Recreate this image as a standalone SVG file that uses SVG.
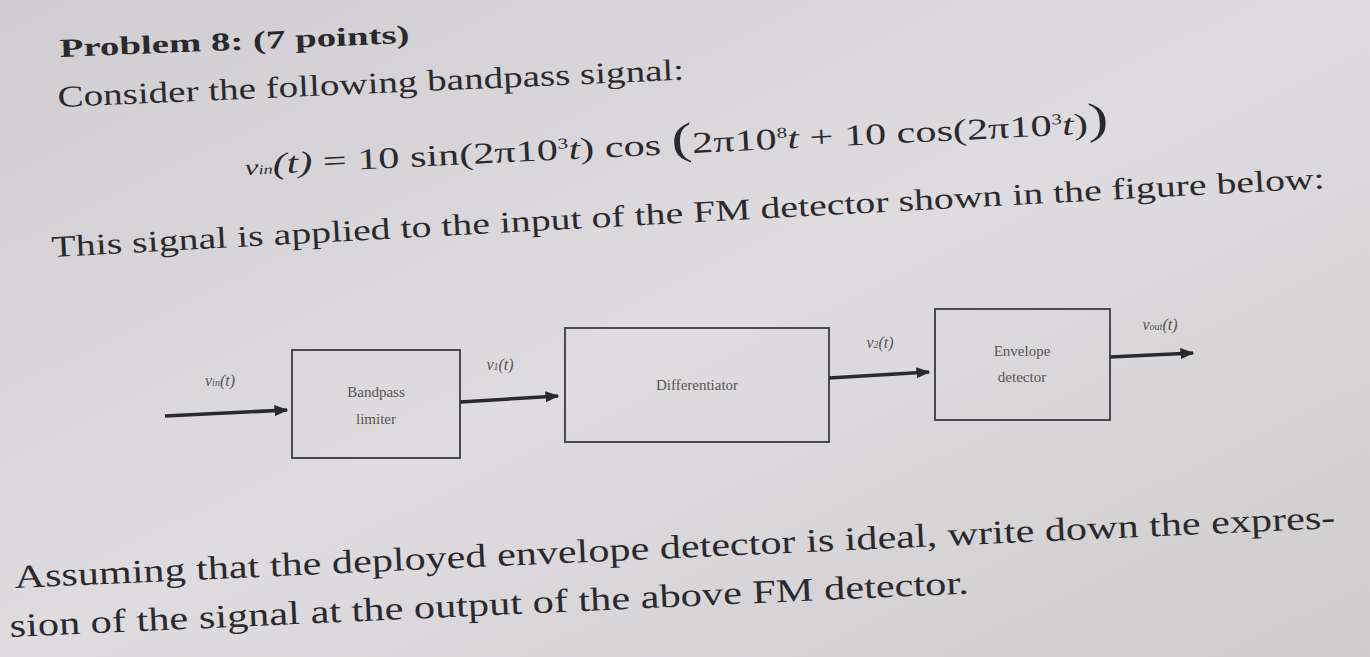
<svg xmlns="http://www.w3.org/2000/svg" width="1370" height="657" viewBox="0 0 1370 657">
<defs>
<style>
text{font-family:"Liberation Serif","DejaVu Serif",serif;fill:#2a2a2e}
.b{fill:none;stroke:#4a4a50;stroke-width:2}
.c{stroke:#2a2a2e;stroke-width:3.5;fill:none;marker-end:url(#a)}
.s{font-size:15px;fill:#555}
.l{font-size:16px;fill:#555;font-style:italic}
</style>
<marker id="a" viewBox="0 0 10 10" refX="9" refY="5" markerWidth="4" markerHeight="4" orient="auto"><path d="M0,1 L10,5 L0,9z" fill="#2a2a2e"/></marker>
<linearGradient id="bg" x1="0" y1="0" x2="1" y2="1"><stop offset="0" stop-color="#d0cdd0"/><stop offset="0.5" stop-color="#dedcde"/><stop offset="1" stop-color="#cfccce"/></linearGradient>
</defs>
<rect width="1370" height="657" fill="url(#bg)"/>
<text x="60" y="57" font-size="26" font-weight="bold" textLength="350" lengthAdjust="spacingAndGlyphs" transform="rotate(-2.3 60 57)">Problem 8: (7 points)</text>
<text x="58" y="107" font-size="30" textLength="627" lengthAdjust="spacingAndGlyphs" transform="rotate(-2.5 58 107)">Consider the following bandpass signal:</text>
<text x="245" y="175" font-size="30" textLength="865" lengthAdjust="spacingAndGlyphs" transform="rotate(-2.8 245 175)"><tspan font-style="italic" font-size="22">v</tspan><tspan font-size="13" font-style="italic">in</tspan><tspan font-style="italic">(t)</tspan> = 10 sin(2π10<tspan font-size="15" dy="-11">3</tspan><tspan dy="11" font-style="italic">t</tspan>) cos <tspan font-size="44">(</tspan>2π10<tspan font-size="15" dy="-11">8</tspan><tspan dy="11" font-style="italic">t</tspan> + 10 cos(2π10<tspan font-size="15" dy="-11">3</tspan><tspan dy="11" font-style="italic">t</tspan>)<tspan font-size="44">)</tspan></text>
<text x="52" y="257" font-size="30" textLength="1275" lengthAdjust="spacingAndGlyphs" transform="rotate(-3.1 52 257)">This signal is applied to the input of the FM detector shown in the figure below:</text>
<g id="n1"><rect class="b" x="292" y="350" width="168" height="108"/><text class="s" x="376" y="397" text-anchor="middle">Bandpass</text><text class="s" x="376" y="424" text-anchor="middle">limiter</text></g>
<g id="n2"><rect class="b" x="565" y="328" width="264" height="114"/><text class="s" x="697" y="390" text-anchor="middle">Differentiator</text></g>
<g id="n3"><rect class="b" x="935" y="309" width="175" height="111"/><text class="s" x="1022" y="356" text-anchor="middle">Envelope</text><text class="s" x="1022" y="382" text-anchor="middle">detector</text></g>
<g id="conn">
<path class="c" d="M165,416 L287,410"/>
<path class="c" d="M460,402 L558,396"/>
<path class="c" d="M829,378 L929,372"/>
<path class="c" d="M1110,357 L1193,353"/>
</g>
<text class="l" x="220" y="386" text-anchor="middle">v<tspan font-size="10">in</tspan>(t)</text>
<text class="l" x="500" y="370" text-anchor="middle">v<tspan font-size="10">1</tspan>(t)</text>
<text class="l" x="880" y="348" text-anchor="middle">v<tspan font-size="10">2</tspan>(t)</text>
<text class="l" x="1160" y="330" text-anchor="middle">v<tspan font-size="10">out</tspan>(t)</text>
<text x="15" y="588" font-size="33" textLength="1322" lengthAdjust="spacingAndGlyphs" transform="rotate(-2.6 15 588)">Assuming that the deployed envelope detector is ideal, write down the expres-</text>
<text x="10" y="637" font-size="33" textLength="960" lengthAdjust="spacingAndGlyphs" transform="rotate(-2.6 10 637)">sion of the signal at the output of the above FM detector.</text>
</svg>
